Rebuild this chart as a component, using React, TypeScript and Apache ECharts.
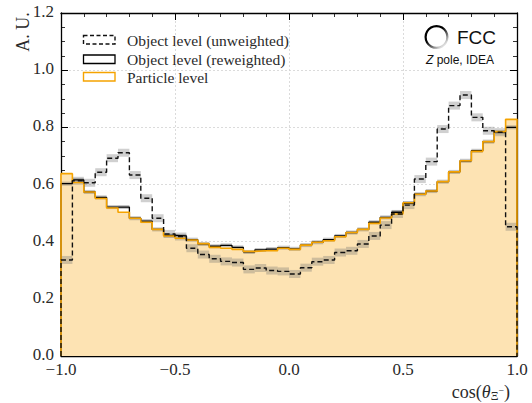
import React, { useEffect, useRef } from "react";
import * as echarts from "echarts";

// Histogram bin edges for cos(theta) (40 bins)
const binEdges = [
  -1.0, -0.95, -0.9, -0.85, -0.8, -0.75, -0.7, -0.65, -0.6, -0.55,
  -0.5, -0.45, -0.4, -0.35, -0.3, -0.25, -0.2, -0.15, -0.1, -0.05,
  0.0, 0.05, 0.1, 0.15, 0.2, 0.25, 0.3, 0.35, 0.4, 0.45,
  0.5, 0.55, 0.6, 0.65, 0.7, 0.75, 0.8, 0.85, 0.9, 0.95, 1.0,
];

// Object level (unweighted) — dashed
const unweighted = [
  0.336, 0.613, 0.606, 0.643, 0.692, 0.711, 0.633, 0.552, 0.482, 0.427,
  0.418, 0.377, 0.355, 0.340, 0.331, 0.327, 0.303, 0.308, 0.299, 0.296,
  0.287, 0.309, 0.330, 0.336, 0.362, 0.368, 0.392, 0.420, 0.458, 0.497,
  0.528, 0.619, 0.680, 0.794, 0.876, 0.913, 0.835, 0.788, 0.783, 0.452,
];

// Object level (reweighted) — solid black
const reweighted = [
  0.603, 0.616, 0.574, 0.555, 0.521, 0.521, 0.482, 0.472, 0.443, 0.422,
  0.420, 0.407, 0.392, 0.384, 0.387, 0.380, 0.364, 0.371, 0.374, 0.379,
  0.375, 0.388, 0.398, 0.407, 0.420, 0.432, 0.443, 0.468, 0.485, 0.503,
  0.534, 0.566, 0.577, 0.610, 0.644, 0.683, 0.718, 0.750, 0.783, 0.800,
];

// Particle level — orange filled
const particle = [
  0.638, 0.607, 0.574, 0.551, 0.518, 0.503, 0.482, 0.468, 0.443, 0.420,
  0.412, 0.406, 0.393, 0.380, 0.377, 0.373, 0.366, 0.368, 0.368, 0.377,
  0.373, 0.388, 0.398, 0.403, 0.417, 0.432, 0.443, 0.464, 0.483, 0.497,
  0.536, 0.566, 0.577, 0.610, 0.644, 0.683, 0.716, 0.750, 0.785, 0.828,
];

// statistical uncertainty (half-width of band)
const unweightedErr = 0.014;
const reweightedErr = 0.007;

const xTicks = [-1.0, -0.5, 0.0, 0.5, 1.0];
const yTicks = [0.0, 0.2, 0.4, 0.6, 0.8, 1.0, 1.2];

const SERIF = '"Liberation Serif", "DejaVu Serif", serif';
const SANS = '"Liberation Sans", Arial, sans-serif';
const TXT = "#2a2a2a";
const ORANGE = "#f5a300";
const FILL = "#fde3b3";

function stepPoints(vals: number[]) {
  const pts: number[][] = [[binEdges[0], 0]];
  for (let i = 0; i < vals.length; i++) {
    pts.push([binEdges[i], vals[i]]);
    pts.push([binEdges[i + 1], vals[i]]);
  }
  pts.push([binEdges[binEdges.length - 1], 0]);
  return pts;
}

function bandRows(vals: number[]) {
  return vals.map((v, i) => [binEdges[i], binEdges[i + 1], v]);
}

function bandRenderer(err: number, fill: string) {
  return (params: any, api: any) => {
    const lo = api.value(0);
    const hi = api.value(1);
    const v = api.value(2);
    const p1 = api.coord([lo, v + err]);
    const p2 = api.coord([hi, v - err]);
    return {
      type: "rect",
      shape: { x: p1[0], y: p1[1], width: p2[0] - p1[0], height: p2[1] - p1[1] },
      style: { fill },
    };
  };
}

const fmt = (v: number) => v.toFixed(1).replace("-", "\u2212");

function xAxisCfg(pos: "bottom" | "top", labels: boolean) {
  return {
    type: "value",
    position: pos,
    min: xTicks[0],
    max: xTicks[xTicks.length - 1],
    interval: 0.5,
    axisLine: { show: true, onZero: false, lineStyle: { color: "#000", width: 1.3 } },
    axisTick: { show: true, inside: true, length: 7, lineStyle: { color: "#000", width: 1 } },
    minorTick: { show: true, splitNumber: 5, length: 4, lineStyle: { color: "#000", width: 0.8 } },
    axisLabel: {
      show: labels,
      fontFamily: SERIF,
      fontSize: 17,
      color: TXT,
      margin: 5,
      showMinLabel: true,
      showMaxLabel: true,
      formatter: fmt,
    },
    splitLine: {
      show: labels,
      lineStyle: { color: "#d2d2d2", type: [2, 2], width: 0.8 },
    },
  };
}

function yAxisCfg(pos: "left" | "right", labels: boolean) {
  return {
    type: "value",
    position: pos,
    min: yTicks[0],
    max: yTicks[yTicks.length - 1],
    interval: 0.2,
    axisLine: { show: true, onZero: false, lineStyle: { color: "#000", width: 1.3 } },
    axisTick: { show: true, inside: true, length: 7, lineStyle: { color: "#000", width: 1 } },
    minorTick: { show: true, splitNumber: 4, length: 4, lineStyle: { color: "#000", width: 0.8 } },
    axisLabel: {
      show: labels,
      fontFamily: SERIF,
      fontSize: 17,
      color: TXT,
      margin: 7,
      showMinLabel: true,
      showMaxLabel: true,
      formatter: fmt,
      verticalAlign: "bottom",
      padding: [0, 0, -7, 0],
    },
    splitLine: {
      show: labels,
      lineStyle: { color: "#d2d2d2", type: [2, 2], width: 0.8 },
    },
  };
}

export default function App() {
  const ref = useRef<HTMLDivElement>(null);

  useEffect(() => {
    if (!ref.current) return;
    const chart = echarts.init(ref.current, undefined, { renderer: "svg" });

    const option: any = {
      animation: false,
      backgroundColor: "#fff",
      grid: { left: 61, right: 15, top: 13, bottom: 47, containLabel: false },
      xAxis: [xAxisCfg("bottom", true), xAxisCfg("top", false)],
      yAxis: [yAxisCfg("left", true), yAxisCfg("right", false)],
      series: [
        {
          name: "Particle fill",
          type: "line",
          data: stepPoints(particle),
          symbol: "none",
          lineStyle: { width: 0, opacity: 0 },
          areaStyle: { color: FILL, opacity: 1, origin: "start" },
          z: 1,
        },
        {
          name: "Unweighted band",
          type: "custom",
          data: bandRows(unweighted),
          encode: { x: [0, 1], y: 2 },
          renderItem: bandRenderer(unweightedErr, "rgba(110,110,110,0.32)"),
          z: 2,
        },
        {
          name: "Reweighted band",
          type: "custom",
          data: bandRows(reweighted),
          encode: { x: [0, 1], y: 2 },
          renderItem: bandRenderer(reweightedErr, "rgba(90,90,90,0.35)"),
          z: 2,
        },
        {
          name: "Object level (reweighted)",
          type: "line",
          data: stepPoints(reweighted),
          symbol: "none",
          lineStyle: { color: "#000", width: 1.3 },
          z: 3,
        },
        {
          name: "Particle level",
          type: "line",
          data: stepPoints(particle),
          symbol: "none",
          lineStyle: { color: ORANGE, width: 1.6 },
          z: 4,
        },
        {
          name: "Object level (unweighted)",
          type: "line",
          data: stepPoints(unweighted),
          symbol: "none",
          lineStyle: { color: "#111", width: 1.4, type: [5, 3] },
          z: 5,
        },
      ],
      graphic: [
        // y-axis title
        {
          type: "text",
          x: 23,
          y: 32,
          rotation: Math.PI / 2,
          style: {
            text: "A. U.",
            font: `18px ${SERIF}`,
            fill: TXT,
            align: "center",
            verticalAlign: "middle",
            textAlign: "center",
            textVerticalAlign: "middle",
          },
        },
        // x-axis title
        {
          type: "text",
          x: 510,
          y: 402,
          style: {
            text: "{n|cos(}{i|θ}{s|Ξ}{m|−}{n|)}",
            align: "right",
            verticalAlign: "bottom",
            textAlign: "right",
            textVerticalAlign: "bottom",
            fill: TXT,
            rich: {
              n: { fontFamily: SERIF, fontSize: 18, fill: TXT, color: TXT },
              i: { fontFamily: SERIF, fontSize: 18, fontStyle: "italic", fill: TXT, color: TXT },
              s: { fontFamily: SERIF, fontSize: 12, fill: TXT, color: TXT, padding: [9, 0, 0, 0] },
              m: { fontFamily: SERIF, fontSize: 10, fill: TXT, color: TXT, padding: [0, 0, 2, 0] },
            },
          },
        },
        // legend handles
        {
          type: "rect",
          shape: { x: 83.5, y: 35.5, width: 31.5, height: 8.5 },
          style: { fill: "none", stroke: "#111", lineWidth: 1.4, lineDash: [4, 2.5] },
        },
        {
          type: "rect",
          shape: { x: 83.5, y: 55, width: 31.5, height: 8.5 },
          style: { fill: "none", stroke: "#000", lineWidth: 1.3 },
        },
        {
          type: "rect",
          shape: { x: 83.5, y: 72.5, width: 31.5, height: 8.5 },
          style: { fill: "#fff", stroke: ORANGE, lineWidth: 1.4 },
        },
        {
          type: "text",
          x: 127,
          y: 40,
          style: {
            text: "Object level (unweighted)",
            font: `15.5px ${SERIF}`,
            fill: TXT,
            verticalAlign: "middle",
            textVerticalAlign: "middle",
          },
        },
        {
          type: "text",
          x: 127,
          y: 59,
          style: {
            text: "Object level (reweighted)",
            font: `15.5px ${SERIF}`,
            fill: TXT,
            verticalAlign: "middle",
            textVerticalAlign: "middle",
          },
        },
        {
          type: "text",
          x: 127,
          y: 77,
          style: {
            text: "Particle level",
            font: `15.5px ${SERIF}`,
            fill: TXT,
            verticalAlign: "middle",
            textVerticalAlign: "middle",
          },
        },
        // FCC logo
        {
          type: "ring",
          shape: { cx: 436.5, cy: 37, r: 12, r0: 9.8 },
          style: {
            fill: new echarts.graphic.LinearGradient(0.1, 0, 0.95, 1, [
              { offset: 0, color: "#000" },
              { offset: 0.4, color: "#000" },
              { offset: 0.62, color: "#666" },
              { offset: 0.82, color: "#d8d8d8" },
              { offset: 1, color: "#fff" },
            ]),
          },
        },
        {
          type: "text",
          x: 457,
          y: 37.5,
          style: {
            text: "FCC",
            font: `19px ${SANS}`,
            fill: "#111",
            verticalAlign: "middle",
            textVerticalAlign: "middle",
          },
        },
        {
          type: "text",
          x: 426,
          y: 60,
          style: {
            text: "{i|Z}{n| pole, IDEA}",
            verticalAlign: "middle",
            textVerticalAlign: "middle",
            fill: "#111",
            rich: {
              i: { fontFamily: SANS, fontSize: 12, fontStyle: "italic", fill: "#111", color: "#111" },
              n: { fontFamily: SANS, fontSize: 12, fill: "#111", color: "#111" },
            },
          },
        },
      ],
    };

    chart.setOption(option);
    return () => chart.dispose();
  }, []);

  return (
    <div
      ref={ref}
      style={{ position: "fixed", left: 0, top: 0, width: 532, height: 403, background: "#fff" }}
    />
  );
}
